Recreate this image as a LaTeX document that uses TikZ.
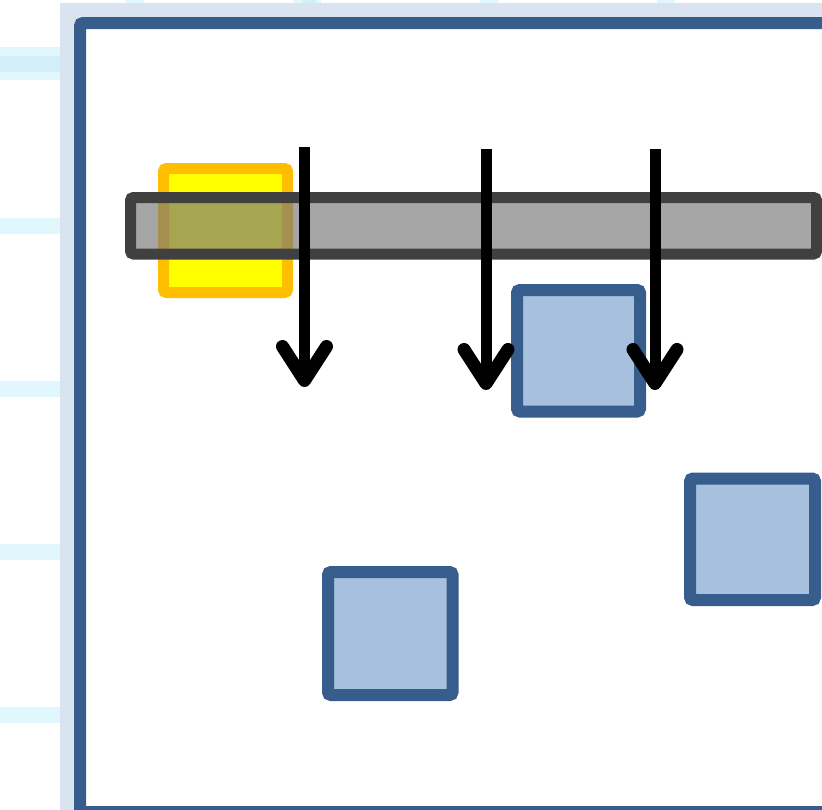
\documentclass[tikz,border=0pt]{standalone}
\usetikzlibrary{arrows.meta}
\definecolor{frameblue}{HTML}{D9E4F0}
\definecolor{borderblue}{HTML}{365D8C}
\definecolor{boxfill}{HTML}{A7C0DE}
\definecolor{tickcyan}{HTML}{DFF7FD}
\definecolor{tickcyan2}{HTML}{D2EEF8}
\definecolor{barfill}{RGB}{121,121,121}
\definecolor{barline}{HTML}{404040}
\definecolor{ylwline}{HTML}{FFBF00}
\definecolor{ylwfill}{HTML}{FFFF00}
\tikzset{
  tick/.style={fill=tickcyan},
  tickdark/.style={fill=tickcyan2},
  bluebox/.style={draw=borderblue, fill=boxfill, line width=12pt, rounded corners=3pt, inner sep=0pt, outer sep=0pt},
  ylwbox/.style={draw=ylwline, fill=ylwfill, line width=11pt, rounded corners=3pt, inner sep=0pt, outer sep=0pt},
  greybar/.style={draw=barline, fill=barfill, fill opacity=0.663, draw opacity=1, line width=11pt, rounded corners=3pt, inner sep=0pt, outer sep=0pt},
  downarrow/.style={draw=black, line width=11pt, -{Straight Barb[round, line width=13pt, length=34pt, width=44pt]}}
}
\begin{document}
\begin{tikzpicture}[x=1pt, y=-1pt]
\useasboundingbox (0,0) rectangle (822,809);
\clip (0,0) rectangle (822,809);
\fill[white] (0,0) rectangle (822,809);
% left ticks
\fill[tick] (0,47) rectangle (60,80);
\fill[tickdark] (0,56) rectangle (60,72);
\fill[tick] (0,218) rectangle (60,234);
\fill[tick] (0,381) rectangle (60,397);
\fill[tick] (0,544) rectangle (60,560);
\fill[tick] (0,707) rectangle (60,723);
% top ticks
\fill[tick] (126,0) rectangle (144,3);
\fill[tick] (294,0) rectangle (321,3);
\fill[tickdark] (303,0) rectangle (316,3);
\fill[tick] (480,0) rectangle (498,3);
\fill[tick] (657,0) rectangle (675,3);
% frame
\fill[frameblue] (60,3) rectangle (840,830);
\draw[borderblue, line width=12pt, fill=white, rounded corners=3pt] (80,23) rectangle (850,812);
% yellow box
\node[ylwbox, minimum width=124pt, minimum height=124pt] (ybox) at (225.5,230.5) {};
% grey bar
\node[greybar, minimum width=686pt, minimum height=56.5pt] (bar) at (473.5,225.75) {};
% blue boxes
\node[bluebox, minimum width=123pt, minimum height=121.5pt] (s1) at (578.5,350.75) {};
\node[bluebox, minimum width=125pt, minimum height=121.5pt] (s2) at (752.5,539.25) {};
\node[bluebox, minimum width=124.5pt, minimum height=123pt] (s3) at (390.25,633.5) {};
% arrows
\coordinate (a1s) at (304.5,147);
\coordinate (a1e) at (304.5,387);
\coordinate (a2s) at (486,149);
\coordinate (a2e) at (486,390);
\coordinate (a3s) at (655,149);
\coordinate (a3e) at (655,390);
\draw[downarrow] (a1s) -- (a1e);
\draw[downarrow] (a2s) -- (a2e);
\draw[downarrow] (a3s) -- (a3e);
\end{tikzpicture}
\end{document}
